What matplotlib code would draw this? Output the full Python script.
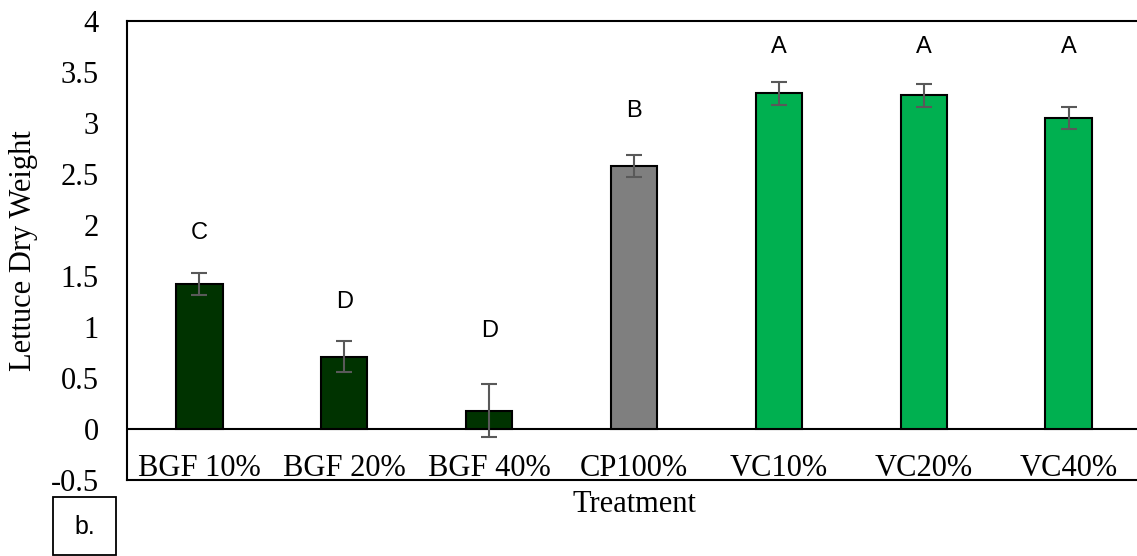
import numpy as np
import matplotlib.pyplot as plt
from matplotlib.patches import Rectangle

plt.rcParams['font.family'] = ['Liberation Serif', 'DejaVu Serif']

# treatment means, standard errors and significance groups
treatments = ['BGF 10%', 'BGF 20%', 'BGF 40%', 'CP100%', 'VC10%', 'VC20%', 'VC40%']
dry_weight = [1.42, 0.71, 0.18, 2.58, 3.29, 3.27, 3.05]
std_err = [0.11, 0.15, 0.26, 0.11, 0.11, 0.11, 0.11]
groups = ['C', 'D', 'D', 'B', 'A', 'A', 'A']
group_y = [1.92, 1.25, 0.96, 3.12, 3.75, 3.75, 3.75]
colors = ['#003300', '#003300', '#003300', '#7F7F7F', '#00B050', '#00B050', '#00B050']

fig = plt.figure(figsize=(11.37, 5.56), dpi=100)
ax = fig.add_axes([0.1117, 0.1367, 0.8918, 0.8255])

x = np.arange(len(treatments))
ax.bar(x, dry_weight, width=0.32, color=colors, edgecolor='black', linewidth=1.5, zorder=2)
ax.errorbar(x, dry_weight, yerr=std_err, fmt='none', ecolor='#595959',
            elinewidth=1.5, capsize=6, capthick=1.5, zorder=3)
ax.axhline(0, color='black', linewidth=1.5, zorder=1)

for xi, g, gy in zip(x, groups, group_y):
    ax.text(xi, gy, g, ha='center', va='center', fontsize=17,
            family=['Liberation Sans', 'DejaVu Sans'])

# category names sit inside the plot, between 0 and -0.5
for xi, name in zip(x, treatments):
    ax.text(xi, -0.46, name, ha='center', va='baseline', fontsize=22)

ax.set_xlim(-0.5, 6.5)
ax.set_ylim(-0.5, 4)
ax.set_yticks(np.arange(-0.5, 4.01, 0.5))
ax.set_yticklabels(['-0.5', '0', '0.5', '1', '1.5', '2', '2.5', '3', '3.5', '4'])
ax.set_xticks([])
ax.tick_params(axis='y', length=0, labelsize=22, pad=20.5)
for s in ax.spines.values():
    s.set_linewidth(1.5)

ax.set_ylabel('Lettuce Dry Weight', fontsize=22)
ax.yaxis.set_label_coords(-0.088, 0.5)
ax.text(0.5, -0.054, 'Treatment', transform=ax.transAxes, ha='center', va='center', fontsize=22)

# panel tag in the lower left corner
fig.patches.append(Rectangle((53 / 1137, 1 / 556), 63 / 1137, 58 / 556, transform=fig.transFigure,
                             fill=False, edgecolor='black', linewidth=1.3))
fig.text(84.5 / 1137, 29 / 556, 'b.', ha='center', va='center', fontsize=18,
         family=['Liberation Sans', 'DejaVu Sans'])

fig.savefig('out.png', dpi=100)
